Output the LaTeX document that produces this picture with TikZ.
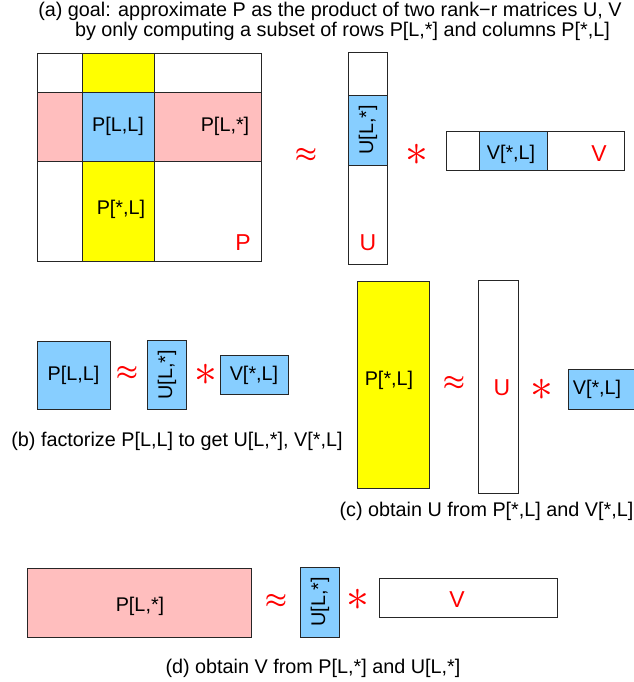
\documentclass[tikz,border=0pt]{standalone}
\usepackage{graphicx}
\usepackage{fontspec}
\setmainfont{Liberation Sans}
\usetikzlibrary{positioning}
\definecolor{ublue}{RGB}{135,206,255}
\definecolor{rpink}{RGB}{255,190,190}
\definecolor{cyellow}{RGB}{255,255,0}
\tikzset{
    mat/.style={draw=black!85, line width=0.9pt},
    lbl/.style={inner sep=0pt, font=\fontsize{19.8}{19}\selectfont},
    rlbl/.style={inner sep=0pt, text=red, font=\fontsize{23}{23}\selectfont},
    opsym/.style={lbl, text=red}
}
\newcommand{\apx}{\scalebox{1.2}{\boldmath$\approx$}}
\newcommand{\tms}{\scalebox{2.2}{$\ast$}}

\begin{document}
\begin{tikzpicture}[x=1pt,y=-1pt]
\useasboundingbox (0,0) rectangle (633,682);

% (a) the whole matrix P
\node[lbl, anchor=base] (ta1) at (330,16.5) {(a) goal: approximate P as the product of two rank−r matrices U, V};
\node[lbl, anchor=base] (ta2) at (342.5,37) {by only computing a subset of rows P[L,*] and columns P[*,L]};

\fill[cyellow] (82,53) rectangle (154,261);
\fill[rpink] (37,92) rectangle (261,161);
\fill[ublue] (82,92) rectangle (154,161);
\draw[mat] (37,53) rectangle (261,261);
\draw[mat] (82,53) -- (82,261) (154,53) -- (154,261)
           (37,92) -- (261,92) (37,161) -- (261,161);
\node[lbl] (pll) at (118,126) {P[L,L]};
\node[lbl] (plx) at (225,126) {P[L,*]};
\node[lbl] (pxl) at (121,209) {P[*,L]};
\node[rlbl] (pa) at (243,243) {P};

\node[opsym] (apa) at (306,155) {\apx};
\fill[ublue] (348,95) rectangle (387,165);
\draw[mat] (348,52) rectangle (387,264);
\draw[mat] (348,95) -- (387,95) (348,165) -- (387,165);
\node[lbl, rotate=90] (ula) at (368,130) {U[L,*]};
\node[rlbl] (ua) at (368,243) {U};

\node[opsym] (tma) at (417,155) {\tms};
\fill[ublue] (479,131) rectangle (547,170);
\draw[mat] (446,131) rectangle (624,170);
\draw[mat] (479,131) -- (479,170) (547,131) -- (547,170);
\node[lbl] (vla) at (511,154) {V[*,L]};
\node[rlbl] (va) at (599,154) {V};

% (b) factorize the small block
\draw[mat, fill=ublue] (37,341) rectangle (110,409);
\node[lbl] (pllb) at (73.5,375) {P[L,L]};
\node[opsym] (apb) at (127,373) {\apx};
\draw[mat, fill=ublue] (147,340) rectangle (186,409);
\node[lbl, rotate=90] (ulb) at (167,375) {U[L,*]};
\node[opsym] (tmb) at (206,375) {\tms};
\draw[mat, fill=ublue] (220,355) rectangle (288,394);
\node[lbl] (vlb) at (254,375) {V[*,L]};
\node[lbl, anchor=base] (tb) at (177,446) {(b) factorize P[L,L] to get U[L,*], V[*,L]};

% (c) solve for U
\draw[mat, fill=cyellow] (357,281) rectangle (429,488);
\node[lbl] (pxlc) at (389,380) {P[*,L]};
\node[opsym] (apc) at (454,383) {\apx};
\draw[mat] (478,280) rectangle (518,493);
\node[rlbl] (uc) at (502,388) {U};
\node[opsym] (tmc) at (542,390) {\tms};
\draw[mat, fill=ublue] (568,369) rectangle (636,409);
\node[lbl] (vlc) at (597,389) {V[*,L]};
\node[lbl, anchor=base] (tc) at (486.5,516) {(c) obtain U from P[*,L] and V[*,L]};

% (d) solve for V
\draw[mat, fill=rpink] (27,568) rectangle (251,637);
\node[lbl] (plxd) at (140,606) {P[L,*]};
\node[opsym] (apd) at (276,601) {\apx};
\draw[mat, fill=ublue] (300,567) rectangle (339,637);
\node[lbl, rotate=90] (uld) at (320,602) {U[L,*]};
\node[opsym] (tmd) at (358,600) {\tms};
\draw[mat] (379,578) rectangle (557,617);
\node[rlbl] (vd) at (457,600) {V};
\node[lbl, anchor=base] (td) at (313,673) {(d) obtain V from P[L,*] and U[L,*]};
\end{tikzpicture}
\end{document}
